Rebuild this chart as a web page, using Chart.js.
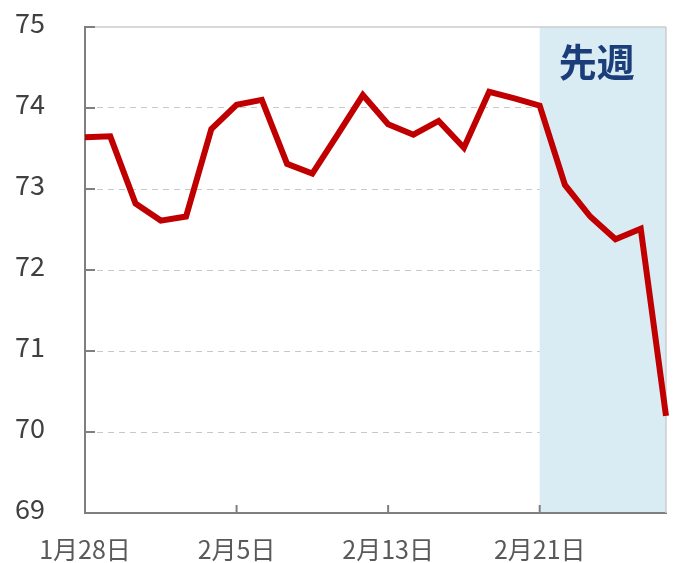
<!DOCTYPE html>
<html>
<head>
<meta charset="utf-8">
<script src="https://cdn.jsdelivr.net/npm/chart.js@4.4.0/dist/chart.umd.min.js"></script>
<style>
  html, body { margin: 0; padding: 0; background: #fff; }
  #wrap { width: 673px; height: 563px; }
</style>
</head>
<body>
<div id="wrap"><canvas id="chart" width="673" height="563"></canvas></div>
<script>
// one point per day on the chart, only some dates are labelled
var dateLabels = ['1月28日', '', '', '', '', '', '2月5日', '', '', '', '', '',
                  '2月13日', '', '', '', '', '', '2月21日', '', '', '', '', ''];
var values = [73.64, 73.65, 72.82, 72.61, 72.66, 73.74, 74.04, 74.10, 73.31, 73.19, 73.67, 74.16,
              73.80, 73.67, 73.84, 73.51, 74.20, 74.12, 74.03, 73.05, 72.66, 72.38, 72.51, 70.20];
var yTicks = [69, 70, 71, 72, 73, 74, 75];
var lastWeekStart = 18; // index where the shaded "last week" band begins
var lastWeekText = '先週';

function line(ctx, x1, y1, x2, y2) {
  ctx.beginPath();
  ctx.moveTo(x1, y1);
  ctx.lineTo(x2, y2);
  ctx.stroke();
}

var lastWeekPlugin = {
  id: 'lastWeek',
  beforeDatasetsDraw: function(chart) {
    var ctx = chart.ctx, a = chart.chartArea;
    var xs = chart.scales.x, ys = chart.scales.y;
    var x0 = xs.getPixelForValue(lastWeekStart);
    ctx.save();
    // shaded band
    ctx.fillStyle = '#daecf3';
    ctx.fillRect(x0, a.top, a.right - x0, a.bottom - a.top - 1);
    // top / right frame
    ctx.strokeStyle = '#cccccc';
    ctx.lineWidth = 1.5;
    line(ctx, a.left, a.top, a.right, a.top);
    line(ctx, a.right, a.top, a.right, a.bottom);
    // tick marks pointing inward
    ctx.strokeStyle = '#7f7f7f';
    ctx.lineWidth = 2;
    yTicks.forEach(function(v) {
      var py = ys.getPixelForValue(v);
      line(ctx, a.left, py, a.left + 10, py);
    });
    dateLabels.forEach(function(l, i) {
      if (l && i > 0) {
        var px = xs.getPixelForValue(i);
        line(ctx, px, a.bottom, px, a.bottom - 8);
      }
    });
    // label
    ctx.font = 'bold 38px "Noto Sans CJK JP"';
    ctx.fillStyle = '#1b3d7a';
    ctx.textAlign = 'center';
    ctx.textBaseline = 'middle';
    ctx.fillText(lastWeekText, (x0 + a.right) / 2 - 6, a.top + 35);
    ctx.restore();
  }
};

new Chart(document.getElementById('chart'), {
  type: 'line',
  data: {
    labels: dateLabels,
    datasets: [{
      data: values,
      borderColor: '#c00000',
      borderWidth: 6,
      pointRadius: 0,
      tension: 0,
      fill: false
    }]
  },
  options: {
    responsive: false,
    animation: false,
    devicePixelRatio: 1,
    layout: { padding: { top: 27, right: 7, left: 0, bottom: 0 } },
    plugins: { legend: { display: false }, tooltip: { enabled: false } },
    scales: {
      x: {
        offset: false,
        grid: { display: false, drawTicks: false },
        border: { display: true, color: '#7f7f7f', width: 2 },
        ticks: {
          autoSkip: false,
          maxRotation: 0,
          padding: 21,
          color: '#595959',
          font: { family: '"Noto Sans CJK JP"', size: 25 }
        },
        afterFit: function(scale) {
          scale.height = 50;
          scale.paddingLeft = 0;
          scale.paddingRight = 0;
        }
      },
      y: {
        min: 69,
        max: 75,
        grid: {
          drawTicks: false,
          color: function(ctx) {
            var v = ctx.tick ? ctx.tick.value : 0;
            return (v > 69 && v < 75) ? '#c8c8c8' : 'rgba(0,0,0,0)';
          },
          lineWidth: 1
        },
        border: { display: true, color: '#7f7f7f', width: 2, dash: [6, 5] },
        ticks: {
          stepSize: 1,
          padding: 40,
          labelOffset: -4,
          color: '#404040',
          font: { family: '"Noto Sans CJK JP"', size: 27 }
        },
        afterFit: function(scale) {
          scale.width = 85;
          scale.paddingTop = 0;
          scale.paddingBottom = 0;
        }
      }
    }
  },
  plugins: [lastWeekPlugin]
});
</script>
</body>
</html>
